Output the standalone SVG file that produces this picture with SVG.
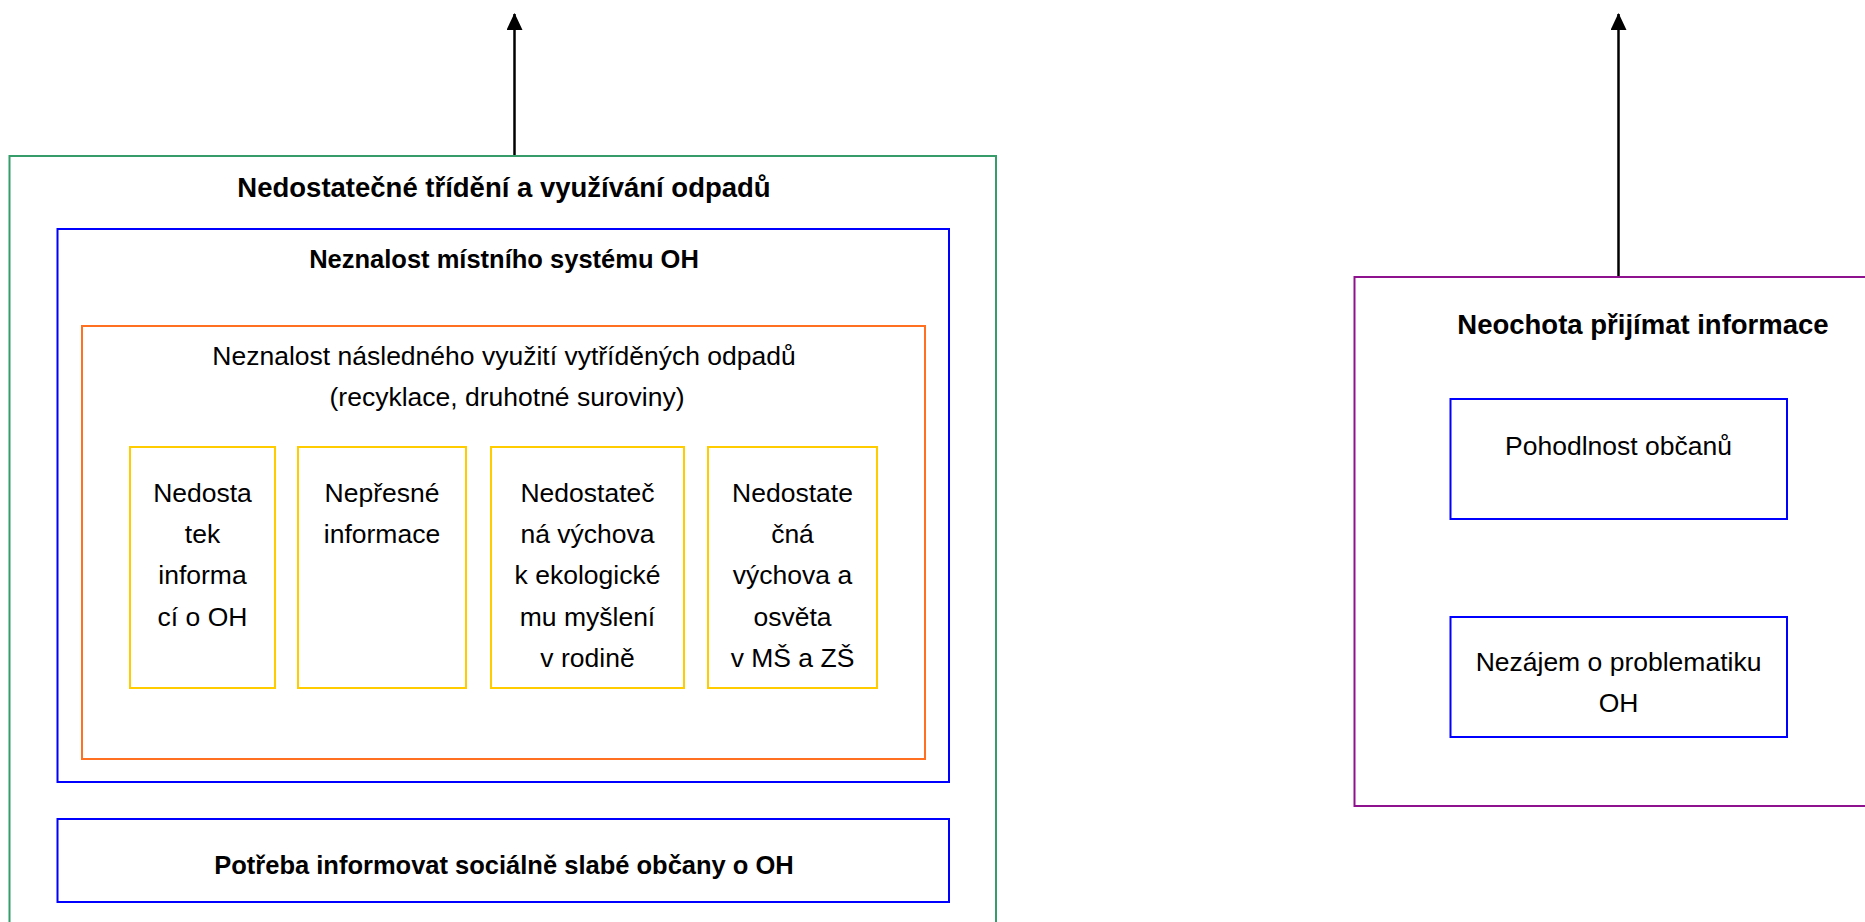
<svg xmlns="http://www.w3.org/2000/svg" width="1865" height="922" viewBox="0 0 1865 922">
<defs>
<marker id="ah" markerWidth="16" markerHeight="17" refX="8" refY="1" orient="0" markerUnits="userSpaceOnUse">
<path d="M0,17 L8,0 L16,17 Z" fill="#000"/>
</marker>
<style>
.box{fill:none;stroke-width:2}
.g{stroke:#359c6a}
.b{stroke:#0000ff}
.o{stroke:#ff7020}
.y{stroke:#ffcc00}
.p{stroke:#8e128e}
text{font-family:"Liberation Sans",Arial,sans-serif;fill:#000;text-anchor:middle}
.t1{font-size:27.5px;font-weight:bold}
.t2{font-size:25.5px;font-weight:bold}
.r{font-size:26.5px}
.conn{stroke:#000;stroke-width:2.5;fill:none}
</style>
</defs>
<rect width="1865" height="922" fill="#fff"/>
<g id="connectors">
<line class="conn" x1="514.5" y1="156" x2="514.5" y2="14" marker-end="url(#ah)"/>
<line class="conn" x1="1618.5" y1="277" x2="1618.5" y2="14" marker-end="url(#ah)"/>
</g>
<g id="node-nedostatecne">
<rect class="box g" x="9.5" y="156" width="986.5" height="790"/>
<text class="t1" x="504" y="197">Nedostatečné třídění a využívání odpadů</text>
</g>
<g id="node-neznalost-systemu">
<rect class="box b" x="57.5" y="229" width="891.5" height="553"/>
<text class="t2" x="504" y="268">Neznalost místního systému OH</text>
</g>
<g id="node-neznalost-vyuziti">
<rect class="box o" x="82" y="326" width="843" height="433"/>
<text class="r" x="504" y="365">Neznalost následného využití vytříděných odpadů</text>
<text class="r" x="507" y="406">(recyklace, druhotné suroviny)</text>
</g>
<g id="node-nedostatek-informaci">
<rect class="box y" x="130" y="447" width="145" height="241"/>
<text class="r" x="202.5" y="502">Nedosta</text>
<text class="r" x="202.5" y="543">tek</text>
<text class="r" x="202.5" y="584">informa</text>
<text class="r" x="202.5" y="626">cí o OH</text>
</g>
<g id="node-nepresne">
<rect class="box y" x="298" y="447" width="168" height="241"/>
<text class="r" x="382" y="502">Nepřesné</text>
<text class="r" x="382" y="543">informace</text>
</g>
<g id="node-vychova-rodina">
<rect class="box y" x="491" y="447" width="193" height="241"/>
<text class="r" x="587.5" y="502">Nedostateč</text>
<text class="r" x="587.5" y="543">ná výchova</text>
<text class="r" x="587.5" y="584">k ekologické</text>
<text class="r" x="587.5" y="626">mu myšlení</text>
<text class="r" x="587.5" y="667">v rodině</text>
</g>
<g id="node-vychova-skola">
<rect class="box y" x="708" y="447" width="169" height="241"/>
<text class="r" x="792.5" y="502">Nedostate</text>
<text class="r" x="792.5" y="543">čná</text>
<text class="r" x="792.5" y="584">výchova a</text>
<text class="r" x="792.5" y="626">osvěta</text>
<text class="r" x="792.5" y="667">v MŠ a ZŠ</text>
</g>
<g id="node-potreba">
<rect class="box b" x="57.5" y="819" width="891.5" height="83"/>
<text class="t2" x="504" y="874">Potřeba informovat sociálně slabé občany o OH</text>
</g>
<g id="node-neochota">
<rect class="box p" x="1354.5" y="277" width="576" height="529"/>
<text class="t1" x="1643" y="334">Neochota přijímat informace</text>
</g>
<g id="node-pohodlnost">
<rect class="box b" x="1450.5" y="399" width="336.5" height="120"/>
<text class="r" x="1618.5" y="455">Pohodlnost občanů</text>
</g>
<g id="node-nezajem">
<rect class="box b" x="1450.5" y="617" width="336.5" height="120"/>
<text class="r" x="1618.5" y="671">Nezájem o problematiku</text>
<text class="r" x="1618.5" y="712">OH</text>
</g>
</svg>
